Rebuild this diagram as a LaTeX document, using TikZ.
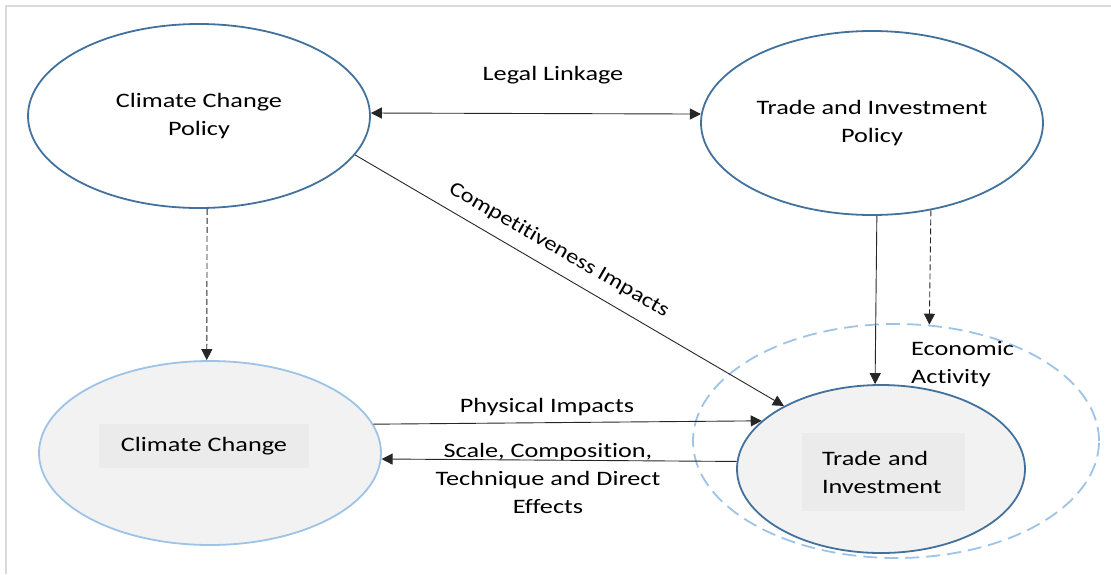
\documentclass[tikz,border=0pt]{standalone}
\usepackage{fontspec}
\setmainfont{Carlito}[FakeStretch=1.28,Ligatures=NoCommon]
\newfontfamily\rotfont{Carlito}[FakeStretch=1.2,Ligatures=NoCommon]
\usetikzlibrary{shapes.geometric,arrows.meta}
\definecolor{dblue}{HTML}{41719C}
\definecolor{lblue}{HTML}{9DC3E6}
\definecolor{ellfill}{HTML}{F2F2F2}
\definecolor{boxfill}{HTML}{EBEBEB}
\definecolor{frame}{HTML}{DADADA}
\begin{document}
\begin{tikzpicture}[x=1pt,y=-1pt,
  every node/.style={font=\fontsize{20.5}{28}\selectfont, text=black},
  bigell/.style={ellipse, inner sep=0pt, minimum width=342pt, minimum height=184pt, line width=1.8pt, align=center},
  txtbox/.style={rectangle, fill=boxfill, inner sep=0pt},
  conn/.style={draw=black!85, line width=0.9pt, -{Triangle[length=11pt,width=11pt]}},
  dconn/.style={conn, dash pattern=on 6pt off 3pt},
  lbl/.style={inner sep=1pt, align=center}]
\useasboundingbox (0,0) rectangle (1111,574);
% frame
\draw[frame, line width=2.5pt] (6,574) -- (6,6) -- (1111,6);
% ellipses
\node[bigell, draw=dblue] (ccp) at (199,116) {Climate Change\\Policy};
\node[bigell, draw=dblue] (tip) at (872,123) {Trade and Investment\\Policy};
\node[bigell, draw=lblue, fill=ellfill] (cc) at (210,453) {};
\node[ellipse, draw=lblue, line width=1.8pt, dash pattern=on 14pt off 7pt, inner sep=0pt, minimum width=406pt, minimum height=234pt] (ea) at (896,441) {};
\node[ellipse, draw=dblue, fill=ellfill, line width=1.8pt, inner sep=0pt, minimum width=288pt, minimum height=168pt] (ti) at (881,469) {};
% text boxes
\node[txtbox, minimum width=210pt, minimum height=44pt] (ccbox) at (204,446) {Climate Change};
\node[txtbox, minimum width=163pt, minimum height=78pt, text width=123pt, inner xsep=20pt, align=left] (tibox) at (883.5,472) {Trade and\\Investment};
% labels
\node[lbl] (llab) at (553,75) {Legal Linkage};
\node[lbl] (plab) at (547,407) {Physical Impacts};
\node[lbl] (slab) at (548,478) {Scale, Composition,\\Technique and Direct\\Effects};
\node[lbl, rotate=-30, font=\rotfont\fontsize{20.5}{28}\selectfont] (clab) at (559,250) {Competitiveness Impacts};
\node[lbl, anchor=west, align=left] (elab) at (910,364) {Economic\\Activity};
% connectors
\draw[conn, {Triangle[length=11pt,width=11pt]}-{Triangle[length=11pt,width=11pt]}] (ccp.1) -- (tip.177);
\draw[dconn] (ccp.-85.6) -- (cc.92.5);
\draw[conn] (ccp.-14.5) -- (ti.147);
\draw[conn] (tip.-87.5) -- (ti.94.8);
\draw[dconn] (tip.-56.7) -- (ea.74);
\draw[conn] (cc.10.5) -- (ti.158.3);
\draw[conn] (ti.177.6) -- (cc.-2.5);
\end{tikzpicture}
\end{document}
